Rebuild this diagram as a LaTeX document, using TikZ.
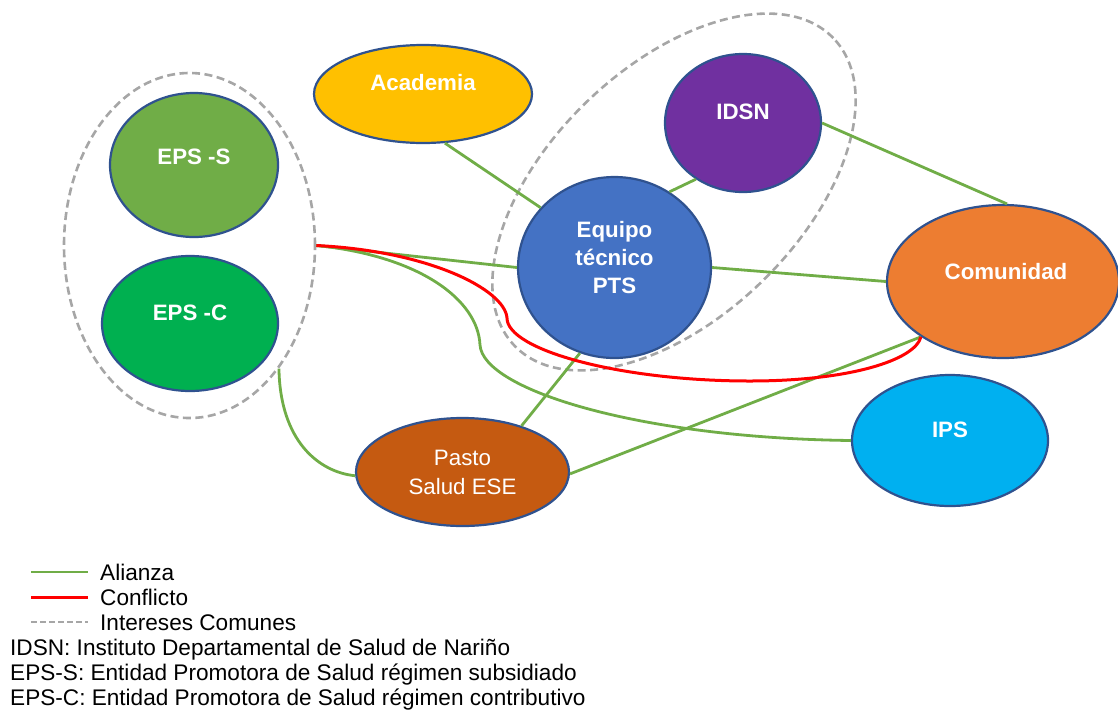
\documentclass[tikz,border=0pt]{standalone}
\usepackage{fontspec}
\setmainfont{Liberation Sans}
\usetikzlibrary{shapes.geometric}
\definecolor{bordc}{HTML}{2F528F}
\definecolor{alianza}{HTML}{70AD47}
\definecolor{conflicto}{HTML}{FF0000}
\definecolor{grupo}{HTML}{A6A6A6}
\definecolor{cEPSS}{HTML}{70AD47}
\definecolor{cEPSC}{HTML}{00B050}
\definecolor{cAcad}{HTML}{FFC000}
\definecolor{cIDSN}{HTML}{7030A0}
\definecolor{cPTS}{HTML}{4472C4}
\definecolor{cCom}{HTML}{ED7D31}
\definecolor{cIPS}{HTML}{00B0F0}
\definecolor{cPasto}{HTML}{C55A11}
\tikzset{
  actor/.style={ellipse, draw=bordc, line width=2.2pt, inner sep=0pt},
  grp/.style={ellipse, draw=grupo, line width=2.6pt, dash pattern=on 8pt off 4.5pt, inner sep=0pt},
  lbl/.style={text=white, font=\fontsize{22.3}{28}\selectfont\bfseries, align=center, inner sep=0pt},
  lblr/.style={text=white, font=\fontsize{22.3}{29}\selectfont, align=center, inner sep=0pt},
  ali/.style={draw=alianza, line width=2.8pt},
  con/.style={draw=conflicto, line width=3pt},
  leg/.style={font=\fontsize{22.6}{25}\selectfont, anchor=base west, inner sep=0pt},
}
\begin{document}
\begin{tikzpicture}[x=1pt,y=-1pt]
\useasboundingbox (0,0) rectangle (1118,710);
% groups (intereses comunes)
\node[grp, minimum width=251pt, minimum height=345pt] (grpL) at (189.5,245.5) {};
\node[grp, minimum width=443pt, minimum height=251pt, rotate=44] (grpR) at (674,192) {};
% actors
\node[actor, fill=cAcad, minimum width=218pt, minimum height=98pt] (acad) at (423,94) {};
\node[actor, fill=cEPSS, minimum width=168pt, minimum height=144pt] (epss) at (194,165) {};
\node[actor, fill=cEPSC, minimum width=176pt, minimum height=135pt] (epsc) at (190,323.5) {};
\node[actor, fill=cIDSN, minimum width=156pt, minimum height=138pt] (idsn) at (743,123) {};
\node[actor, fill=cPTS, minimum width=193pt, minimum height=181pt] (pts) at (614.5,267.5) {};
\node[actor, fill=cCom, minimum width=232pt, minimum height=153pt] (com) at (1003,281.5) {};
\node[actor, fill=cIPS, minimum width=196pt, minimum height=131pt] (ips) at (950,440.5) {};
\node[actor, fill=cPasto, minimum width=213pt, minimum height=108pt] (pasto) at (462.5,472) {};
% labels
\node[lbl] (tacad) at (423,83) {Academia};
\node[lbl] (tepss) at (194,156.5) {EPS -S};
\node[lbl] (tepsc) at (190,313) {EPS -C};
\node[lbl] (tidsn) at (743,112) {IDSN};
\node[lbl] (tpts) at (614.5,258) {Equipo\\técnico\\PTS};
\node[lbl] (tcom) at (1006,272) {Comunidad};
\node[lbl] (tips) at (950,430) {IPS};
\node[lblr] (tpasto) at (462.5,472.5) {Pasto\\Salud ESE};
% alianzas
\draw[ali] (acad.-66) -- (pts.141.5);
\draw[ali] (pts.54.8) -- (idsn.-130);
\draw[ali] (idsn.0) -- (com.87);
\draw[ali] (pts.east) -- (com.west);
\draw[ali] (grpL.east) -- (pts.west);
\draw[ali] (pts.-112) -- (pasto.38);
\draw[ali] (pasto.-1.6) -- (com.-146.4);
\draw[ali] (grpL.-54) .. controls (280,440) and (318,472) .. (pasto.-178.4);
\draw[ali] (grpL.east) .. controls (420,256) and (478,300) .. (480,345)
  .. controls (483,390) and (640,438) .. (ips.west);
% conflicto
\draw[con] (grpL.east) .. controls (430,251) and (505,290) .. (507,318)
  .. controls (507,350) and (620,381) .. (750,381)
  .. controls (850,381) and (915,360) .. (com.-146.4);
% legend
\coordinate (l1a) at (31,572); \coordinate (l1b) at (88,572);
\coordinate (l2a) at (31,597); \coordinate (l2b) at (88,597);
\coordinate (l3a) at (31,622); \coordinate (l3b) at (88,622);
\draw[ali] (l1a) -- (l1b);
\draw[con] (l2a) -- (l2b);
\draw[draw=grupo, line width=2.4pt, dash pattern=on 6pt off 3pt] (l3a) -- (l3b);
\node[leg] (g1) at (100,580) {Alianza};
\node[leg] (g2) at (100,605) {Conflicto};
\node[leg] (g3) at (100,630) {Intereses Comunes};
\node[leg] (g4) at (10,655) {IDSN: Instituto Departamental de Salud de Nariño};
\node[leg] (g5) at (10,680) {EPS-S: Entidad Promotora de Salud régimen subsidiado};
\node[leg] (g6) at (10,705) {EPS-C: Entidad Promotora de Salud régimen contributivo};
\end{tikzpicture}
\end{document}
